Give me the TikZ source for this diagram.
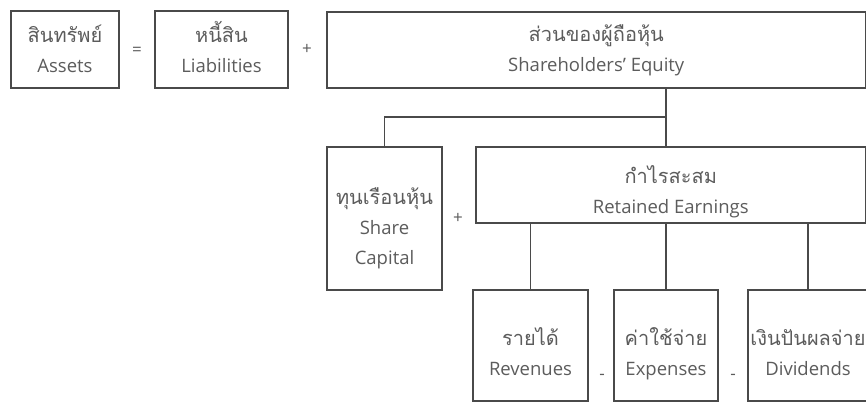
\documentclass[tikz,border=0pt]{standalone}
\usepackage{fontspec}
\setmainfont{Open Sans}
\newfontfamily\thai[Script=Thai,Scale=1.08]{Loma}
\definecolor{boxline}{HTML}{4A4A4A}
\definecolor{txt}{HTML}{5C5C5C}
\newcommand\toplead[1]{\rule{0pt}{#1}}
\begin{document}
\begin{tikzpicture}[x=1pt,y=-1pt,
  box/.style={draw=boxline, line width=1.4pt, fill=white, align=center, inner sep=0pt,
    text=txt, font=\fontsize{18.5}{30}\selectfont},
  op/.style={text=txt, font=\fontsize{17}{18}\selectfont, inner sep=0pt},
  conn/.style={draw=boxline, line width=1.4pt}]
\useasboundingbox[fill=white] (0,0) rectangle (866,403);
\node[box, minimum width=108pt, minimum height=77pt] (as) at (65,49.5) {\toplead{25pt}{\thai สินทรัพย์}\\Assets\strut};
\node[box, minimum width=133pt, minimum height=77pt] (li) at (221.5,49.5) {\toplead{25pt}{\thai หนี้สิน}\\Liabilities\strut};
\node[box, minimum width=538.5pt, minimum height=76pt] (eq) at (596.25,50) {\toplead{23pt}{\thai ส่วนของผู้ถือหุ้น}\\Shareholders’ Equity\strut};
\node[box, minimum width=115pt, minimum height=143pt] (sc) at (384.5,218.5) {\toplead{40pt}{\thai ทุนเรือนหุ้น}\\Share\\Capital\strut};
\node[box, minimum width=389.5pt, minimum height=76pt] (re) at (670.75,185) {\toplead{37pt}{\thai กำไรสะสม}\\Retained Earnings\strut};
\node[box, minimum width=115pt, minimum height=111pt] (rev) at (530.5,345.5) {\toplead{39pt}{\thai รายได้}\\Revenues\strut};
\node[box, minimum width=104pt, minimum height=111pt] (exp) at (666,345.5) {\toplead{39pt}{\thai ค่าใช้จ่าย}\\Expenses\strut};
\node[box, minimum width=120pt, minimum height=111pt] (div) at (808,345.5) {\toplead{39pt}{\thai เงินปันผลจ่าย}\\Dividends\strut};
\node[op] (o1) at (137,51) {=};
\node[op] (o2) at (307,49) {+};
\node[op] (o3) at (458,218) {+};
\node[op] (o4) at (602,377) {-};
\node[op] (o5) at (733,377) {-};
\coordinate (j) at (666,117);
\draw[conn] (eq.south -| j) -- (re.north -| j);
\draw[conn] (j) -- (j -| sc.north) -- (sc.north);
\draw[conn] (rev.north) -- (rev.north |- re.south);
\draw[conn] (exp.north) -- (exp.north |- re.south);
\draw[conn] (div.north) -- (div.north |- re.south);
\end{tikzpicture}
\end{document}
